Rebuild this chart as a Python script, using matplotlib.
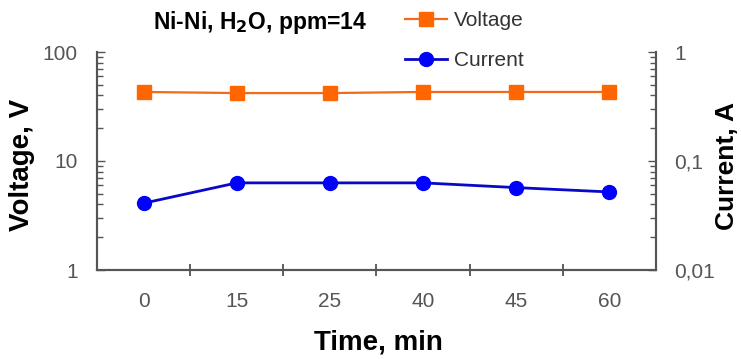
import matplotlib
matplotlib.use("Agg")
import matplotlib.pyplot as plt
from matplotlib.ticker import LogLocator, FixedLocator, NullFormatter, FuncFormatter
from matplotlib.lines import Line2D

times = ["0", "15", "25", "40", "45", "60"]
voltage = [43, 42, 42, 43, 43, 43]
current = [0.041, 0.063, 0.063, 0.063, 0.057, 0.052]

plt.rcParams['font.family'] = ['Liberation Sans', 'DejaVu Sans']

W, H = 741, 359
L, R, T, B = 97, 656, 52, 270
fig = plt.figure(figsize=(W/100, H/100), dpi=100)
ax = fig.add_axes([L/W, 1-B/H, (R-L)/W, (B-T)/H])
ax2 = ax.twinx()

orange = '#FF6600'
blue = '#0000FF'
blue_line = '#0808C8'

x = list(range(len(times)))
ax.plot(x, voltage, color='#F26A1B', marker='s', markersize=10.5, mfc=orange, mec=orange,
        lw=1.6, zorder=3)
ax2.plot(x, current, color=blue_line, marker='o', markersize=10, mfc=blue, mec=blue,
         lw=2.0, zorder=3)

ax.set_xlim(-0.5, len(times)-0.5)
ax.set_yscale('log')
ax.set_ylim(1, 100)
ax2.set_yscale('log')
ax2.set_ylim(0.01, 1)

ax.yaxis.set_major_locator(FixedLocator([1, 10, 100]))
ax.yaxis.set_minor_locator(LogLocator(base=10, subs=range(2, 10)))
ax.yaxis.set_minor_formatter(NullFormatter())
ax.yaxis.set_major_formatter(FuncFormatter(lambda v, p: f"{v:g}"))
ax2.yaxis.set_major_locator(FixedLocator([0.01, 0.1, 1]))
ax2.yaxis.set_minor_locator(LogLocator(base=10, subs=range(2, 10)))
ax2.yaxis.set_minor_formatter(NullFormatter())
ax2.yaxis.set_major_formatter(FuncFormatter(lambda v, p: f"{v:g}".replace('.', ',')))

# category ticks at boundaries, labels at centers
ax.set_xticks([i + 0.5 for i in range(len(times)-1)])
ax.set_xticklabels([])
ax.set_xticks(x, minor=True)
ax.set_xticklabels(times, minor=True)
ax.tick_params(axis='x', which='major', direction='inout', length=9, width=1.2, color='#444444')
ax.tick_params(axis='x', which='minor', length=0, pad=16, labelsize=15, labelcolor='#555555')

tc = '#555555'
ax.tick_params(axis='y', which='major', direction='in', length=6, width=1, color=tc,
               labelsize=15, labelcolor=tc, pad=14)
ax.tick_params(axis='y', which='minor', direction='in', length=4, width=1, color=tc)
ax2.tick_params(axis='y', which='major', direction='in', length=6, width=1, color=tc,
                labelsize=15, labelcolor=tc, pad=13)
ax2.tick_params(axis='y', which='minor', direction='in', length=4, width=1, color=tc)

for a in (ax, ax2):
    a.spines['top'].set_visible(False)
    for s in ('left', 'right', 'bottom'):
        a.spines[s].set_color('#555555')
        a.spines[s].set_linewidth(1.5)

fig.text(378/W, 1-343/H, "Time, min", fontsize=20, fontweight='bold', ha='center', va='center')
fig.text(22/W, 1-165/H, "Voltage, V", fontsize=20, fontweight='bold', ha='center', va='center',
         rotation=90)
fig.text(727/W, 1-166/H, "Current, A", fontsize=19, fontweight='bold', ha='center', va='center',
         rotation=90)

fig.text(153/W, 1-22/H, r"Ni-Ni, H$_\mathbf{2}$O, ppm=14", fontsize=16.5, fontweight='bold',
         va='center', ha='left')

handles = [Line2D([], [], color='#F26A1B', marker='s', markersize=10.5, mfc=orange, mec=orange, lw=1.6),
           Line2D([], [], color=blue_line, marker='o', markersize=10, mfc=blue, mec=blue, lw=2.0)]
fig.legend(handles, ["Voltage", "Current"], loc='upper left', bbox_to_anchor=(405/W, 1-11/H),
           frameon=False, fontsize=15, handlelength=2.0, handletextpad=0.35, labelspacing=1.0,
           borderpad=0, borderaxespad=0, labelcolor='#333333')

fig.savefig("out.png", dpi=100)
